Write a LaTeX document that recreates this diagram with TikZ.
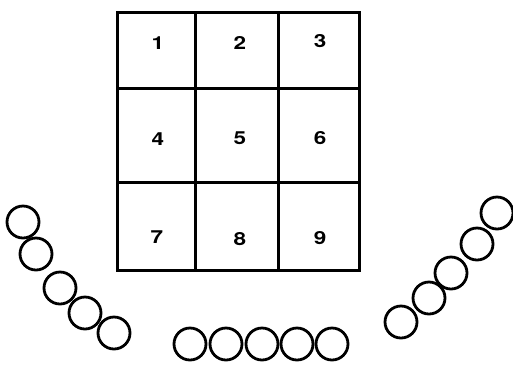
\documentclass[tikz,border=0pt]{standalone}
\usepackage{fontspec}
\setsansfont{TeX Gyre Heros}
\usetikzlibrary{positioning}

\begin{document}
\begin{tikzpicture}[
    x=1pt, y=-1pt,
    gridline/.style={line width=3pt},
    seat/.style={draw, circle, line width=2.8pt, minimum size=32pt, inner sep=0pt},
    num/.style={font=\sffamily\bfseries\fontsize{18}{18}\selectfont, xscale=1.25}
]
    \useasboundingbox (0,0) rectangle (513,365);

    % grid of nine cells
    \draw[gridline] (117,12) rectangle (359,270);
    \draw[gridline] (195,12) -- (195,270);
    \draw[gridline] (278,12) -- (278,270);
    \draw[gridline] (117,88) -- (359,88);
    \draw[gridline] (117,182) -- (359,182);

    \node[num] (n1) at (158,43) {1};
    \node[num] (n2) at (240,43) {2};
    \node[num] (n3) at (320,41) {3};
    \node[num] (n4) at (158,139) {4};
    \node[num] (n5) at (240,138) {5};
    \node[num] (n6) at (320,138) {6};
    \node[num] (n7) at (157,237) {7};
    \node[num] (n8) at (240,239) {8};
    \node[num] (n9) at (320,238) {9};

    % left row
    \node[seat] (l1) at (23,222) {};
    \node[seat] (l2) at (36,254) {};
    \node[seat] (l3) at (60,288) {};
    \node[seat] (l4) at (85,313) {};
    \node[seat] (l5) at (114,333) {};

    % bottom row
    \foreach \i/\x in {1/190,2/226,3/262,4/297,5/332}
        \node[seat] (b\i) at (\x,344) {};

    % right row
    \node[seat] (r1) at (401,322) {};
    \node[seat] (r2) at (429,298) {};
    \node[seat] (r3) at (451,273) {};
    \node[seat] (r4) at (477,244) {};
    \node[seat] (r5) at (497,213) {};
\end{tikzpicture}
\end{document}
